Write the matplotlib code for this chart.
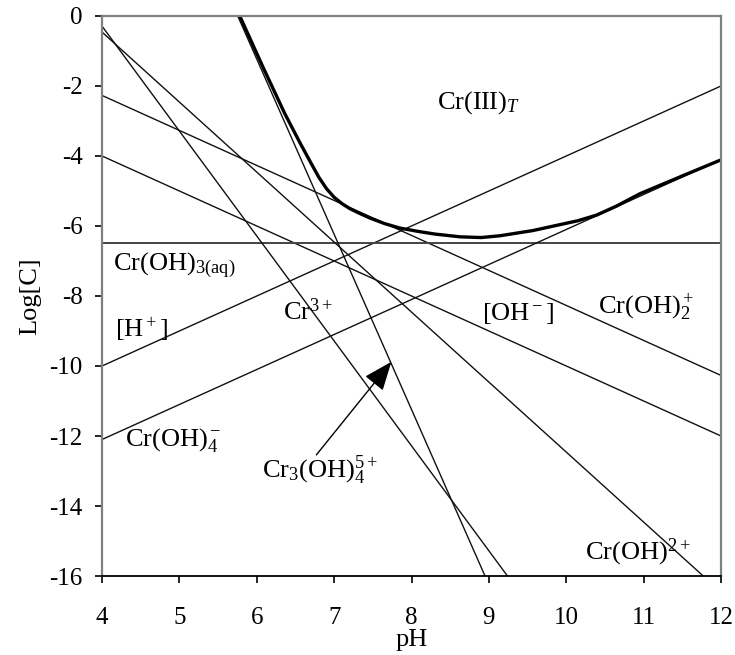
import matplotlib
matplotlib.use('Agg')
import matplotlib.pyplot as plt

plt.rcParams['font.family'] = ['Liberation Serif', 'DejaVu Serif']
plt.rcParams['mathtext.fontset'] = 'custom'
plt.rcParams['mathtext.rm'] = 'Liberation Serif'
plt.rcParams['mathtext.it'] = 'Liberation Serif:italic'
plt.rcParams['mathtext.bf'] = 'Liberation Serif:bold'
plt.rcParams['axes.unicode_minus'] = False

# straight species lines (pH, log C at the ends)
ph_full = [4, 12]
h_plus = [-4, -12]
oh_minus = [-10, -2]
cr_oh2_plus = [-2.27, -10.27]
cr_oh3_aq = [-6.5, -6.5]
cr_oh4_minus = [-12.1, -4.1]
cr3_ph = [4, 9.24]
cr3 = [-0.29, -16]
cr_oh_ph = [4, 11.77]
cr_oh = [-0.46, -16]
cr3_oh4_ph = [5.754, 8.95]
cr3_oh4 = [0, -16]

# total Cr(III), read point by point
crT_ph = [5.78, 6.08, 6.36, 6.56, 6.7, 6.8, 6.9, 7.0, 7.1, 7.2, 7.3, 7.46, 7.65, 7.85,
          8.1, 8.3, 8.63, 8.9, 9.14, 9.57, 9.9, 10.15, 10.39, 10.65, 10.95, 11.51, 12.0]
crT = [0, -1.46, -2.78, -3.63, -4.2, -4.6, -4.93, -5.18, -5.36, -5.5, -5.61, -5.77, -5.93, -6.06,
       -6.16, -6.23, -6.31, -6.33, -6.28, -6.13, -5.97, -5.85, -5.69, -5.43, -5.08, -4.56, -4.11]

labels = ['Cr(III)$_T$', 'Cr(OH)$_{\\mathrm{3(aq)}}$', '[H$^+$]', 'Cr(OH)$_4^-$', 'Cr$^{3+}$',
          '[OH$^-$]', 'Cr(OH)$_2^+$', 'Cr$_3$(OH)$_4^{5+}$', 'Cr(OH)$^{2+}$']
label_x = [8.33, 4.14, 4.17, 4.30, 6.34, 8.91, 10.41, 6.07, 10.24]
label_y = [-2.46, -7.11, -8.97, -12.11, -8.46, -8.49, -8.31, -12.97, -15.31]

fig = plt.figure(figsize=(7.35, 6.55), dpi=100)
ax = fig.add_axes([0.1388, 0.1206, 0.8422, 0.855])

thin = 1.0
ax.plot(ph_full, h_plus, color='#111111', lw=thin)
ax.plot(ph_full, oh_minus, color='#111111', lw=thin)
ax.plot(ph_full, cr_oh2_plus, color='#111111', lw=thin)
ax.plot(ph_full, cr_oh3_aq, color='#444444', lw=1.4)
ax.plot(ph_full, cr_oh4_minus, color='#111111', lw=thin)
ax.plot(cr3_ph, cr3, color='#111111', lw=thin)
ax.plot(cr_oh_ph, cr_oh, color='#111111', lw=thin)
ax.plot(cr3_oh4_ph, cr3_oh4, color='#111111', lw=thin)
ax.plot(crT_ph, crT, color='black', lw=2.4, solid_joinstyle='round')

for i in range(len(labels)):
	ax.text(label_x[i], label_y[i], labels[i], fontsize=19, ha='left', va='center')

ax.annotate('', xy=(7.74, -9.88), xytext=(6.77, -12.54),
            arrowprops=dict(arrowstyle='-|>,head_length=0.4,head_width=0.16',
                            mutation_scale=45, color='black', lw=1.0,
                            shrinkA=0, shrinkB=0))

ax.set_xlim(4, 12)
ax.set_ylim(-16, 0)
ax.set_xticks(range(4, 13))
ax.set_yticks(range(-16, 1, 2))
ax.tick_params(axis='both', labelsize=18, direction='out', length=5, width=1.2)
ax.tick_params(axis='x', pad=17)
ax.tick_params(axis='y', pad=9)

for s in ['left', 'top', 'right']:
	ax.spines[s].set_color('#808080')
	ax.spines[s].set_linewidth(1.6)
ax.spines['bottom'].set_color('black')
ax.spines['bottom'].set_linewidth(1.3)

ax.set_xlabel('pH', fontsize=19, labelpad=0)
ax.set_ylabel('Log[C]', fontsize=19, labelpad=6)

fig.savefig('out.png', dpi=100)
